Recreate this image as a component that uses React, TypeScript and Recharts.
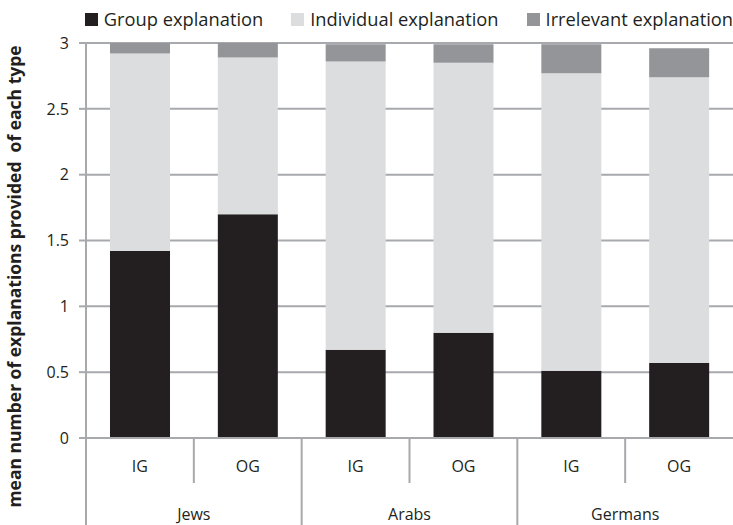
import React from 'react';
import { BarChart, Bar, XAxis, YAxis, CartesianGrid } from 'recharts';

const subgroups = ['IG', 'OG', 'IG', 'OG', 'IG', 'OG'];
const groups = ['Jews', 'Jews', 'Arabs', 'Arabs', 'Germans', 'Germans'];
const groupExplanation = [1.42, 1.7, 0.67, 0.8, 0.51, 0.57];
const individualExplanation = [1.5, 1.19, 2.19, 2.05, 2.26, 2.17];
const irrelevantExplanation = [0.08, 0.11, 0.13, 0.14, 0.22, 0.22];
const yTicks = [0, 0.5, 1, 1.5, 2, 2.5, 3];

const SERIES = [
  { key: 'group', name: 'Group explanation', color: '#231f20' },
  { key: 'individual', name: 'Individual explanation', color: '#dcdddf' },
  { key: 'irrelevant', name: 'Irrelevant explanation', color: '#939598' },
];

const FONT = '"Open Sans", sans-serif';
const TEXT = '#231f20';
const LINE = '#a7a9ac';

const data = subgroups.map((sub, i) => ({
  sub,
  grp: groups[i],
  group: groupExplanation[i],
  individual: individualExplanation[i],
  irrelevant: irrelevantExplanation[i],
}));

const XTick = (props: any) => {
  const { x, y, payload, index } = props;
  const half = payload && payload.offset ? payload.offset : 54;
  const left = x - half;
  const isFirstOfGroup = index === 0 || groups[index] !== groups[index - 1];
  return (
    <g>
      <line x1={left} x2={left} y1={y} y2={y + (isFirstOfGroup ? 90 : 45)} stroke={LINE} strokeWidth={2} />
      <text x={x} y={y + 34} textAnchor="middle" fontSize={16} fill={TEXT} fontFamily={FONT}>
        {payload.value}
      </text>
      {!isFirstOfGroup && (
        <text x={left} y={y + 82} textAnchor="middle" fontSize={16} fill={TEXT} fontFamily={FONT}>
          {groups[index]}
        </text>
      )}
    </g>
  );
};

const ChartLegend = () => (
  <div
    style={{
      position: 'absolute', top: 7, right: 0, display: 'flex',
      fontFamily: FONT, fontSize: 18.3, color: TEXT, whiteSpace: 'nowrap', lineHeight: '24px',
    }}
  >
    {SERIES.map((s) => (
      <div key={s.key} style={{ display: 'flex', alignItems: 'center', marginLeft: 28 }}>
        <span style={{ display: 'inline-block', width: 13, height: 13, background: s.color, marginRight: 6 }} />
        <span>{s.name}</span>
      </div>
    ))}
  </div>
);

const YLabel = (props: any) => {
  const { viewBox } = props;
  const cy = viewBox.y + viewBox.height / 2 + 36;
  return (
    <text
      transform={`rotate(-90, 15, ${cy})`}
      x={15}
      y={cy}
      dy={6}
      textAnchor="middle"
      fontSize={17.5}
      fontWeight="bold"
      fill={TEXT}
      fontFamily={FONT}
      style={{ whiteSpace: 'pre' }}
    >
      {'mean number of explanations provided  of each type'}
    </text>
  );
};

export default function App() {
  return (
    <div style={{ position: 'absolute', left: 0, top: 0, width: 733, height: 525, background: '#fff' }}>
      <ChartLegend />
      <BarChart
        width={733}
        height={525}
        data={data}
        margin={{ top: 43, right: 0, left: 0, bottom: 0 }}
        barCategoryGap={0}
      >
        <CartesianGrid vertical={false} stroke={LINE} strokeWidth={2} />
        <XAxis
          dataKey="sub"
          height={87}
          interval={0}
          tickLine={false}
          tickSize={0}
          tickMargin={0}
          axisLine={{ stroke: LINE, strokeWidth: 2 }}
          tick={<XTick />}
        />
        <YAxis
          width={86}
          domain={[0, 3]}
          ticks={yTicks}
          interval={0}
          tickSize={7}
          tickMargin={10}
          tickLine={{ stroke: LINE, strokeWidth: 2 }}
          axisLine={{ stroke: LINE, strokeWidth: 2 }}
          tick={{ fontSize: 16, fill: TEXT, fontFamily: FONT }}
          label={<YLabel />}
        />
        {SERIES.map((s) => (
          <Bar
            key={s.key}
            dataKey={s.key}
            name={s.name}
            stackId="a"
            fill={s.color}
            barSize={60}
            isAnimationActive={false}
          />
        ))}
      </BarChart>
    </div>
  );
}
